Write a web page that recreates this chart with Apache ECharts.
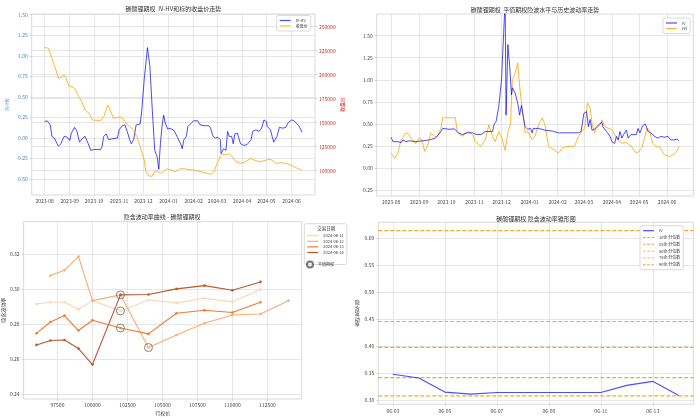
<!DOCTYPE html>
<html>
<head>
<meta charset="utf-8">
<script src="https://cdn.jsdelivr.net/npm/echarts@6/dist/echarts.min.js"></script>
<style>
  html, body { margin: 0; padding: 0; background: #fff; }
  #main { width: 700px; height: 419px; }
</style>
</head>
<body>
<div id="main"></div>
<script>
// ---- 左上: IV-HV 与标的收盘价 ----
const ivHvDiff = [
  ['2023-08-01',0.20],['2023-08-04',0.21],['2023-08-08',0.16],['2023-08-10',0.02],['2023-08-13',0.00],
  ['2023-08-18',-0.10],['2023-08-21',-0.07],['2023-08-25',0.02],['2023-08-29',0.01],['2023-09-01',-0.03],
  ['2023-09-03',0.06],['2023-09-07',0.13],['2023-09-10',0.08],['2023-09-13',-0.05],['2023-09-17',0.00],
  ['2023-09-20',0.02],['2023-09-23',-0.05],['2023-09-27',-0.15],['2023-10-01',-0.14],['2023-10-09',-0.14],
  ['2023-10-11',-0.10],['2023-10-13',0.02],['2023-10-16',0.05],['2023-10-19',-0.02],['2023-10-23',-0.01],
  ['2023-10-30',0.00],['2023-11-01',0.10],['2023-11-05',0.15],['2023-11-08',0.16],['2023-11-11',0.08],
  ['2023-11-14',-0.02],['2023-11-16',-0.07],['2023-11-19',-0.02],['2023-11-22',0.16],['2023-11-27',0.17],
  ['2023-11-29',0.34],['2023-12-02',0.71],['2023-12-06',1.10],['2023-12-09',0.87],['2023-12-12',0.34],
  ['2023-12-15',-0.15],['2023-12-18',-0.23],['2023-12-20',-0.38],['2023-12-22',-0.07],['2023-12-24',0.14],
  ['2023-12-26',0.28],['2023-12-28',0.18],['2023-12-31',0.11],['2024-01-03',0.12],['2024-01-08',0.09],
  ['2024-01-12',0.01],['2024-01-16',-0.07],['2024-01-18',-0.13],['2024-01-20',-0.02],['2024-01-23',0.02],
  ['2024-01-25',0.14],['2024-01-28',0.17],['2024-02-01',0.21],['2024-02-06',0.21],['2024-02-09',0.16],
  ['2024-02-14',0.15],['2024-02-20',0.15],['2024-02-22',0.12],['2024-02-25',0.02],['2024-02-28',0.00],
  ['2024-03-02',0.01],['2024-03-05',-0.02],['2024-03-06',-0.19],['2024-03-09',-0.13],['2024-03-12',-0.15],
  ['2024-03-14',0.08],['2024-03-16',0.02],['2024-03-19',0.02],['2024-03-21',-0.07],['2024-03-23',0.05],
  ['2024-03-26',0.06],['2024-03-28',0.04],['2024-03-30',-0.07],['2024-04-03',-0.09],['2024-04-07',-0.08],
  ['2024-04-12',-0.02],['2024-04-14',0.08],['2024-04-18',0.10],['2024-04-22',0.08],['2024-04-25',0.12],
  ['2024-04-28',0.22],['2024-05-01',0.20],['2024-05-02',0.14],['2024-05-06',0.10],['2024-05-08',0.02],
  ['2024-05-10',-0.05],['2024-05-14',0.02],['2024-05-17',0.13],['2024-05-21',0.12],['2024-05-25',0.13],
  ['2024-05-28',0.19],['2024-06-01',0.22],['2024-06-04',0.21],['2024-06-07',0.18],['2024-06-10',0.15],
  ['2024-06-12',0.13],['2024-06-14',0.07]
];
const closePrice = [
  ['2023-08-01',228500],['2023-08-06',227400],['2023-08-08',222000],['2023-08-12',211800],['2023-08-15',204900],
  ['2023-08-18',196200],['2023-08-21',197200],['2023-08-25',199600],['2023-08-27',197200],['2023-08-31',188200],
  ['2023-09-02',189200],['2023-09-05',186800],['2023-09-08',184700],['2023-09-12',177100],['2023-09-16',171900],
  ['2023-09-20',163200],['2023-09-25',159700],['2023-09-29',152800],['2023-10-09',152100],['2023-10-11',151000],
  ['2023-10-13',156200],['2023-10-18',168400],['2023-10-21',163200],['2023-10-25',154500],['2023-10-30',155600],
  ['2023-11-03',156200],['2023-11-07',152800],['2023-11-11',147600],['2023-11-15',145800],['2023-11-19',141700],
  ['2023-11-23',135400],['2023-11-27',125000],['2023-12-02',111100],['2023-12-04',99000],['2023-12-08',94400],
  ['2023-12-12',94400],['2023-12-15',99000],['2023-12-18',100000],['2023-12-22',97200],['2023-12-26',99000],
  ['2023-12-30',102000],['2024-01-04',100700],['2024-01-10',99000],['2024-01-14',101400],['2024-01-18',102400],
  ['2024-01-24',101400],['2024-02-01',100700],['2024-02-10',99000],['2024-02-18',97200],['2024-02-22',96200],
  ['2024-02-26',99000],['2024-03-01',107600],['2024-03-05',114600],['2024-03-08',117400],['2024-03-12',116300],
  ['2024-03-16',117400],['2024-03-20',114600],['2024-03-24',109400],['2024-03-30',107600],['2024-04-05',109400],
  ['2024-04-12',112800],['2024-04-16',111100],['2024-04-22',109400],['2024-04-28',110400],['2024-05-04',111800],
  ['2024-05-08',111100],['2024-05-13',107600],['2024-05-19',108300],['2024-05-25',107600],['2024-05-31',105900],
  ['2024-06-06',103100],['2024-06-12',101400],['2024-06-14',100000]
];

// ---- 右上: 平值期权隐波 IV 与历史波动率 HV ----
const atmIV = [
  ['2023-08-01',0.35],['2023-08-03',0.30],['2023-08-05',0.28],['2023-08-08',0.30],['2023-08-12',0.29],
  ['2023-08-14',0.32],['2023-08-17',0.30],['2023-08-21',0.31],['2023-08-28',0.30],['2023-09-05',0.31],
  ['2023-09-12',0.32],['2023-09-19',0.34],['2023-09-24',0.40],['2023-09-27',0.45],['2023-09-29',0.43],
  ['2023-10-04',0.44],['2023-10-10',0.445],['2023-10-12',0.45],['2023-10-14',0.40],['2023-10-19',0.38],
  ['2023-10-24',0.40],['2023-10-30',0.40],['2023-11-02',0.385],['2023-11-08',0.38],['2023-11-13',0.415],
  ['2023-11-21',0.415],['2023-11-23',0.50],['2023-11-25',0.53],['2023-11-28',0.70],['2023-12-01',1.00],
  ['2023-12-03',1.45],['2023-12-05',1.90],['2023-12-06',0.60],['2023-12-08',1.40],['2023-12-10',1.15],
  ['2023-12-12',0.83],['2023-12-13',0.91],['2023-12-16',0.85],['2023-12-19',0.73],['2023-12-21',0.60],
  ['2023-12-23',0.71],['2023-12-25',0.70],['2023-12-27',0.47],['2023-12-30',0.44],['2024-01-02',0.45],
  ['2024-01-04',0.40],['2024-01-05',0.45],['2024-01-11',0.45],['2024-01-18',0.43],['2024-01-26',0.42],
  ['2024-02-02',0.40],['2024-02-09',0.40],['2024-02-17',0.40],['2024-02-24',0.40],['2024-02-27',0.415],
  ['2024-03-01',0.62],['2024-03-04',0.64],['2024-03-06',0.47],['2024-03-08',0.55],['2024-03-10',0.43],
  ['2024-03-13',0.44],['2024-03-17',0.49],['2024-03-21',0.52],['2024-03-22',0.47],['2024-03-26',0.415],
  ['2024-03-30',0.36],['2024-04-01',0.30],['2024-04-04',0.28],['2024-04-06',0.36],['2024-04-08',0.32],
  ['2024-04-10',0.415],['2024-04-12',0.34],['2024-04-15',0.40],['2024-04-17',0.43],['2024-04-19',0.34],
  ['2024-04-22',0.38],['2024-04-24',0.36],['2024-04-28',0.38],['2024-04-30',0.45],['2024-05-02',0.40],
  ['2024-05-05',0.48],['2024-05-08',0.50],['2024-05-11',0.415],['2024-05-14',0.40],['2024-05-16',0.415],
  ['2024-05-18',0.36],['2024-05-22',0.34],['2024-05-25',0.36],['2024-05-29',0.35],['2024-06-02',0.36],
  ['2024-06-05',0.32],['2024-06-09',0.32],['2024-06-12',0.33],['2024-06-14',0.31]
];
const histHV = [
  ['2023-08-01',0.17],['2023-08-05',0.11],['2023-08-08',0.16],['2023-08-12',0.32],['2023-08-17',0.40],
  ['2023-08-20',0.39],['2023-08-24',0.32],['2023-08-28',0.28],['2023-09-01',0.34],['2023-09-04',0.32],
  ['2023-09-07',0.19],['2023-09-10',0.245],['2023-09-14',0.40],['2023-09-18',0.36],['2023-09-21',0.36],
  ['2023-09-25',0.45],['2023-09-27',0.57],['2023-10-04',0.57],['2023-10-11',0.57],['2023-10-13',0.415],
  ['2023-10-16',0.38],['2023-10-19',0.36],['2023-10-22',0.40],['2023-10-26',0.415],['2023-10-30',0.38],
  ['2023-11-02',0.30],['2023-11-08',0.245],['2023-11-13',0.32],['2023-11-17',0.49],['2023-11-21',0.36],
  ['2023-11-24',0.30],['2023-11-28',0.415],['2023-12-02',0.32],['2023-12-05',0.20],['2023-12-08',0.40],
  ['2023-12-11',0.51],['2023-12-13',1.00],['2023-12-16',1.075],['2023-12-19',1.19],['2023-12-21',0.925],
  ['2023-12-24',0.66],['2023-12-26',0.51],['2023-12-27',0.40],['2023-12-30',0.415],['2024-01-04',0.32],
  ['2024-01-07',0.36],['2024-01-11',0.49],['2024-01-15',0.57],['2024-01-18',0.49],['2024-01-22',0.245],
  ['2024-01-28',0.21],['2024-02-02',0.17],['2024-02-06',0.226],['2024-02-11',0.245],['2024-02-17',0.245],
  ['2024-02-20',0.253],['2024-02-24',0.36],['2024-02-28',0.415],['2024-03-02',0.453],['2024-03-05',0.74],
  ['2024-03-08',0.68],['2024-03-10',0.51],['2024-03-13',0.40],['2024-03-15',0.453],['2024-03-19',0.49],
  ['2024-03-21',0.547],['2024-03-24',0.47],['2024-03-28',0.453],['2024-04-01',0.434],['2024-04-04',0.38],
  ['2024-04-08',0.32],['2024-04-12',0.283],['2024-04-17',0.29],['2024-04-23',0.245],['2024-04-26',0.19],
  ['2024-04-29',0.17],['2024-05-04',0.226],['2024-05-07',0.34],['2024-05-10',0.453],['2024-05-13',0.415],
  ['2024-05-16',0.283],['2024-05-20',0.245],['2024-05-24',0.238],['2024-05-29',0.151],['2024-06-04',0.132],
  ['2024-06-09',0.162],['2024-06-12',0.19],['2024-06-14',0.245]
];

// ---- 左下: 隐含波动率曲线 ----
const strikes = [96000, 97000, 98000, 99000, 100000, 102000, 104000, 106000, 108000, 110000, 112000, 114000];
const smileDates = ['2024-06-11', '2024-06-12', '2024-06-13', '2024-06-14'];
const smile0611 = [0.2916, 0.2926, 0.2926, 0.2886, 0.2935, 0.2876, 0.2939, 0.2922, 0.2949, 0.2928, 0.2998, null];
const smile0612 = [null, 0.3078, 0.3109, 0.3187, 0.2935, 0.2968, 0.2667, 0.2739, 0.2806, 0.2853, 0.2859, 0.2935];
const smile0613 = [0.2749, 0.2813, 0.2850, 0.2764, 0.2823, 0.2779, 0.2745, 0.2863, 0.2880, 0.2867, 0.2926, null];
const smile0614 = [0.2682, 0.2707, 0.2710, 0.2661, 0.2570, 0.2968, 0.2970, 0.3002, 0.3021, 0.2994, 0.3042, null];
const atmStrikes = [102000, 104000, 102000, 102000]; // 每个交易日的平值行权价

// ---- 右下: 隐含波动率锥形图 ----
const coneDates = ['2024-06-03', '2024-06-04', '2024-06-05', '2024-06-06', '2024-06-07',
                   '2024-06-11', '2024-06-12', '2024-06-13', '2024-06-14'];
const coneIV = [0.3486, 0.3417, 0.3156, 0.3118, 0.3149, 0.3149, 0.3280, 0.3355, 0.3093];
const coneLevels = ['10th 分位数', '25th 分位数', '50th 分位数', '75th 分位数', '90th 分位数'];
const coneValues = [0.3087, 0.3423, 0.3984, 0.4463, 0.6144];

// ---- 刻度 ----
const monthLabels = ['2023-08', '2023-09', '2023-10', '2023-11', '2023-12', '2024-01',
                     '2024-02', '2024-03', '2024-04', '2024-05', '2024-06'];
const ivHvTicks = [-0.5, -0.25, 0, 0.25, 0.5, 0.75, 1.0, 1.25, 1.5];
const closeTicks = [100000, 125000, 150000, 175000, 200000, 225000, 250000];
const volTicks = [-0.25, 0, 0.25, 0.5, 0.75, 1.0, 1.25, 1.5];
const strikeTicks = [97500, 100000, 102500, 105000, 107500, 110000, 112500];
const smileTicks = [0.24, 0.26, 0.28, 0.30, 0.32];
const coneDayLabels = ['06-03', '06-05', '06-07', '06-09', '06-11', '06-13'];
const coneTicks = [0.30, 0.35, 0.40, 0.45, 0.50, 0.55, 0.60];

// 本地时间解析，日期轴用数值轴+时间戳
function ts(s) {
  const p = s.split('-').map(Number);
  return new Date(p[0], p[1] - 1, p[2] || 1).getTime();
}
const DAY = 86400000;
const FONT = '"Noto Sans CJK SC", "DejaVu Sans", sans-serif';
const GRID_LINE = { show: true, lineStyle: { color: '#e0e0e0', width: 0.8 } };
const BLUE = 'rgba(0,0,255,0.7)';
const ORANGE = 'rgba(255,165,0,0.8)';
const CONE_ORANGE = '#f7a829';
const smileColors = ['#fcd6b2', '#fdab72', '#f4792d', '#c0552a'];
const DASH_ICON = 'path://M0,0h3v1h-3z M4.5,0h3v1h-3z M9,0h3v1h-3z';

const monthTs = monthLabels.map(m => ts(m + '-01'));
const coneDayTs = coneDayLabels.map(d => ts('2024-' + d));
const coneXMin = ts('2024-06-03') - 0.56 * DAY;
const coneXMax = ts('2024-06-14') + 0.56 * DAY;

function toTime(arr) { return arr.map(d => [ts(d[0]), d[1]]); }

function valueAxis(gridIndex, min, max, ticks, fmt, color, extra) {
  return Object.assign({
    type: 'value', gridIndex: gridIndex, min: min, max: max, scale: true,
    axisLine: { show: false },
    axisTick: { show: true, customValues: ticks, length: 2, lineStyle: { color: '#bbb', width: 0.6 } },
    axisLabel: { customValues: ticks, formatter: fmt, fontSize: 5, color: color, margin: 4, fontFamily: FONT },
    splitLine: GRID_LINE
  }, extra || {});
}

function labelAt(labels, values) {
  return v => {
    const i = values.findIndex(t => Math.abs(t - v) < 1000);
    return i >= 0 ? labels[i] : '';
  };
}

const smileSeries = [smile0611, smile0612, smile0613, smile0614].map((vals, i) => ({
  type: 'line', name: smileDates[i], xAxisIndex: 2, yAxisIndex: 3,
  data: strikes.map((k, j) => [k, vals[j]]).filter(p => p[1] !== null),
  symbol: 'circle', symbolSize: 2.6, showSymbol: true,
  lineStyle: { color: smileColors[i], width: 1.1 },
  itemStyle: { color: smileColors[i] },
  z: 3 + i
}));

// 平值期权位置从各日曲线中取值
const atmPoints = atmStrikes.map((k, i) => {
  const vals = [smile0611, smile0612, smile0613, smile0614][i];
  return [k, vals[strikes.indexOf(k)]];
});

// 分位数水平线横跨整个 x 轴范围
const coneSeries = coneLevels.map((name, i) => ({
  type: 'line', name: name, xAxisIndex: 3, yAxisIndex: 4,
  data: [[coneXMin, coneValues[i]], [coneXMax, coneValues[i]]],
  symbol: 'none', silent: true,
  lineStyle: { color: CONE_ORANGE, width: 1.2, type: [4, 2] },
  itemStyle: { color: CONE_ORANGE },
  z: 2
}));

const legendBase = {
  orient: 'vertical', itemWidth: 11, itemHeight: 1.2, itemGap: 1.5, icon: 'rect',
  padding: [2, 3, 2, 3], borderColor: '#d0d0d0', borderWidth: 0.8, borderRadius: 2,
  backgroundColor: '#fff',
  textStyle: { fontSize: 4, color: '#333', fontFamily: FONT },
  selectedMode: false
};

const titleStyle = { fontSize: 6, fill: '#333', fontFamily: FONT, align: 'center', verticalAlign: 'middle' };
const gridBox = { show: true, borderColor: '#d0d0d0', borderWidth: 0.8, backgroundColor: '#fff' };

const option = {
  backgroundColor: '#fff',
  animation: false,
  grid: [
    Object.assign({ left: 31.7, top: 14, width: 283.3, height: 181 }, gridBox),
    Object.assign({ left: 376.7, top: 14, width: 316.6, height: 182 }, gridBox),
    Object.assign({ left: 22.7, top: 221.7, width: 279, height: 177.3 }, gridBox),
    Object.assign({ left: 378.3, top: 222.3, width: 315, height: 182 }, gridBox)
  ],
  xAxis: [
    valueAxis(0, ts('2023-07-16'), ts('2024-06-30'), monthTs, labelAt(monthLabels, monthTs), '#444'),
    valueAxis(1, ts('2023-07-16'), ts('2024-06-30'), monthTs, labelAt(monthLabels, monthTs), '#444'),
    valueAxis(2, 95080, 114950, strikeTicks, v => String(v), '#444', {
      name: '行权价', nameLocation: 'middle', nameGap: 12,
      nameTextStyle: { fontSize: 5, color: '#333', fontFamily: FONT }
    }),
    valueAxis(3, coneXMin, coneXMax, coneDayTs, labelAt(coneDayLabels, coneDayTs), '#444')
  ],
  yAxis: [
    valueAxis(0, -0.693, 1.509, ivHvTicks, v => v.toFixed(2), '#3f86c4', {
      name: 'IV-HV', nameLocation: 'middle', nameGap: 22, nameRotate: 90,
      nameTextStyle: { fontSize: 5, color: '#3f86c4', fontFamily: FONT }
    }),
    valueAxis(0, 74700, 263200, closeTicks, v => String(v), '#d62728', {
      position: 'right',
      name: '收盘价', nameLocation: 'middle', nameGap: 24, nameRotate: 90,
      nameTextStyle: { fontSize: 5, color: '#d62728', fontFamily: FONT }
    }),
    valueAxis(1, -0.315, 1.745, volTicks, v => v.toFixed(2), '#444'),
    valueAxis(2, 0.2373, 0.3386, smileTicks, v => v.toFixed(2), '#444', {
      name: '隐含波动率', nameLocation: 'middle', nameGap: 16, nameRotate: 90,
      nameTextStyle: { fontSize: 5, color: '#333', fontFamily: FONT }
    }),
    valueAxis(3, 0.293, 0.630, coneTicks, v => v.toFixed(2), '#444', {
      name: '隐\n含\n波\n动\n率', nameLocation: 'middle', nameGap: 19, nameRotate: 0,
      nameTextStyle: { fontSize: 5, color: '#333', fontFamily: FONT, lineHeight: 5.6, align: 'center' }
    })
  ],
  legend: [
    Object.assign({}, legendBase, { left: 276.7, top: 15.5, padding: [3, 3, 3, 3], data: ['IV-HV', '收盘价'] }),
    Object.assign({}, legendBase, { left: 663, top: 18, padding: [3, 3, 3, 3], data: ['IV', 'HV'] }),
    Object.assign({}, legendBase, {
      left: 304.3, top: 223.7, padding: [10, 3, 10, 3], itemGap: 1.6,
      data: smileDates
    }),
    {
      orient: 'vertical', left: 306, top: 260.5, itemWidth: 6, itemHeight: 6, padding: 0, z: 10,
      textStyle: { fontSize: 4, color: '#333', fontFamily: FONT }, selectedMode: false,
      data: ['平值期权']
    },
    Object.assign({}, legendBase, {
      left: 640, top: 225.7, padding: [3, 3, 3, 3], itemGap: 2.8,
      data: [{ name: 'IV', icon: 'rect' }].concat(coneLevels.map(n => ({ name: n, icon: DASH_ICON })))
    })
  ],
  graphic: [
    { type: 'text', x: 173.3, y: 8.5, style: Object.assign({ text: '碳酸锂期权  IV-HV和标的收盘价走势' }, titleStyle) },
    { type: 'text', x: 535, y: 9.5, style: Object.assign({ text: '碳酸锂期权  平值期权隐波水平与历史波动率走势' }, titleStyle) },
    { type: 'text', x: 162.2, y: 216.5, style: Object.assign({ text: '隐含波动率曲线 - 碳酸锂期权' }, titleStyle) },
    { type: 'text', x: 536, y: 218.5, style: Object.assign({ text: '碳酸锂期权 隐含波动率锥形图' }, titleStyle) },
    { type: 'text', x: 326.3, y: 228.2, z: 100, style: Object.assign({}, titleStyle, { text: '交易日期', fontSize: 4.5 }) }
  ],
  series: [
    {
      type: 'line', name: 'IV-HV', xAxisIndex: 0, yAxisIndex: 0, data: toTime(ivHvDiff),
      symbol: 'none', lineStyle: { color: BLUE, width: 1 }, itemStyle: { color: BLUE }
    },
    {
      type: 'line', name: '收盘价', xAxisIndex: 0, yAxisIndex: 1, data: toTime(closePrice),
      symbol: 'none', lineStyle: { color: ORANGE, width: 1 }, itemStyle: { color: ORANGE }
    },
    {
      type: 'line', name: 'IV', xAxisIndex: 1, yAxisIndex: 2, data: toTime(atmIV),
      symbol: 'none', lineStyle: { color: BLUE, width: 1 }, itemStyle: { color: BLUE }, z: 3
    },
    {
      type: 'line', name: 'HV', xAxisIndex: 1, yAxisIndex: 2, data: toTime(histHV),
      symbol: 'none', lineStyle: { color: ORANGE, width: 1 }, itemStyle: { color: ORANGE }, z: 2
    },
    ...smileSeries,
    {
      type: 'scatter', name: '平值期权', xAxisIndex: 2, yAxisIndex: 3, data: atmPoints,
      symbol: 'circle', symbolSize: 8, z: 10,
      itemStyle: { color: 'rgba(0,0,0,0)', borderColor: '#555', borderWidth: 0.9 }
    },
    {
      type: 'line', name: 'IV', xAxisIndex: 3, yAxisIndex: 4,
      data: coneDates.map((d, i) => [ts(d), coneIV[i]]),
      symbol: 'none', lineStyle: { color: BLUE, width: 1.1 }, itemStyle: { color: BLUE }, z: 5
    },
    ...coneSeries
  ]
};

const chart = echarts.init(document.getElementById('main'));
chart.setOption(option);
</script>
</body>
</html>
